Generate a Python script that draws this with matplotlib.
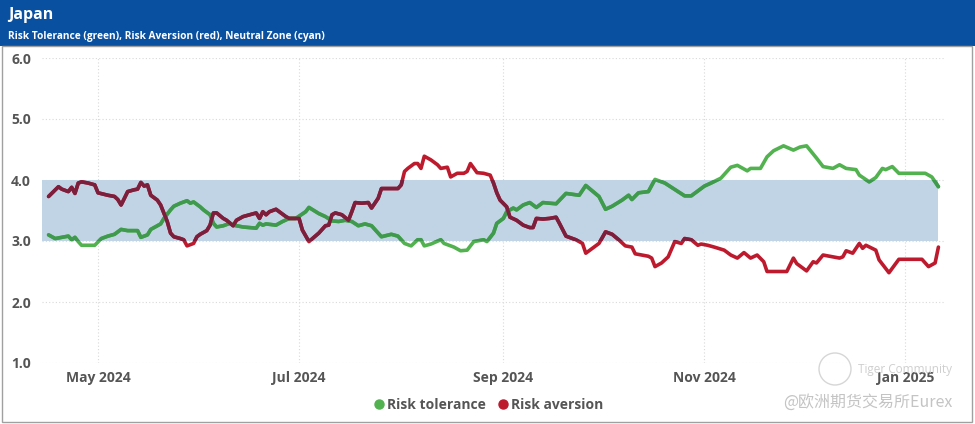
import matplotlib
matplotlib.use("Agg")
import matplotlib.pyplot as plt
import matplotlib.dates as mdates
from matplotlib.patches import Rectangle, Ellipse
from matplotlib.lines import Line2D
import pandas as pd

# ---------------- data ----------------
title = "Japan"
subtitle = "Risk Tolerance (green), Risk Aversion (red), Neutral Zone (cyan)"

red_dates = ['2024-04-16','2024-04-19','2024-04-20','2024-04-22','2024-04-23','2024-04-24','2024-04-25','2024-04-26','2024-04-28','2024-04-30',
             '2024-05-01','2024-05-04','2024-05-06','2024-05-07','2024-05-08','2024-05-10','2024-05-12','2024-05-13','2024-05-14','2024-05-15','2024-05-16','2024-05-17','2024-05-19','2024-05-20','2024-05-22','2024-05-23','2024-05-24','2024-05-26','2024-05-27','2024-05-28','2024-05-30','2024-05-31',
             '2024-06-01','2024-06-03','2024-06-04','2024-06-05','2024-06-06','2024-06-08','2024-06-09','2024-06-11','2024-06-12','2024-06-14','2024-06-16','2024-06-18','2024-06-19','2024-06-20','2024-06-21','2024-06-22','2024-06-24','2024-06-26','2024-06-27','2024-06-28',
             '2024-07-01','2024-07-02','2024-07-04','2024-07-07','2024-07-09','2024-07-10','2024-07-11','2024-07-12','2024-07-14','2024-07-16','2024-07-17','2024-07-18','2024-07-20','2024-07-22','2024-07-23','2024-07-25','2024-07-26','2024-07-28','2024-07-31',
             '2024-08-01','2024-08-02','2024-08-03','2024-08-05','2024-08-06','2024-08-07','2024-08-08','2024-08-10','2024-08-12','2024-08-13','2024-08-15','2024-08-16','2024-08-18','2024-08-20','2024-08-21','2024-08-22','2024-08-24','2024-08-26','2024-08-28','2024-08-29','2024-08-30','2024-08-31',
             '2024-09-02','2024-09-03','2024-09-05','2024-09-07','2024-09-09','2024-09-10','2024-09-11','2024-09-13','2024-09-15','2024-09-17','2024-09-18','2024-09-20','2024-09-23','2024-09-25','2024-09-26','2024-09-28','2024-09-30',
             '2024-10-02','2024-10-04','2024-10-06','2024-10-08','2024-10-10','2024-10-11','2024-10-13','2024-10-15','2024-10-16','2024-10-17','2024-10-19','2024-10-21','2024-10-23','2024-10-25','2024-10-26','2024-10-28','2024-10-30','2024-10-31',
             '2024-11-02','2024-11-04','2024-11-07','2024-11-09','2024-11-11','2024-11-13','2024-11-15','2024-11-17','2024-11-19','2024-11-20','2024-11-23','2024-11-26','2024-11-28','2024-11-29',
             '2024-12-02','2024-12-04','2024-12-05','2024-12-07','2024-12-09','2024-12-12','2024-12-13','2024-12-14','2024-12-16','2024-12-18','2024-12-19','2024-12-20','2024-12-23','2024-12-24','2024-12-26','2024-12-27','2024-12-30',
             '2025-01-06','2025-01-08','2025-01-10','2025-01-11']
red_values = [3.73,3.89,3.85,3.81,3.88,3.78,3.95,3.97,3.95,3.92,
              3.79,3.75,3.73,3.68,3.59,3.81,3.84,3.85,3.96,3.90,3.92,3.75,3.67,3.59,3.32,3.13,3.07,3.04,3.02,2.92,2.96,3.07,
              3.11,3.17,3.26,3.46,3.46,3.37,3.34,3.25,3.34,3.40,3.43,3.46,3.37,3.48,3.43,3.48,3.52,3.44,3.40,3.37,
              3.37,3.18,2.99,3.13,3.25,3.26,3.43,3.46,3.43,3.34,3.48,3.63,3.62,3.63,3.54,3.70,3.86,3.86,3.86,
              3.92,4.14,4.19,4.27,4.27,4.19,4.39,4.33,4.25,4.19,4.21,4.05,4.11,4.11,4.14,4.27,4.12,4.11,4.08,3.95,3.79,3.67,
              3.56,3.39,3.34,3.26,3.22,3.22,3.37,3.36,3.37,3.39,3.29,3.08,3.02,2.96,2.80,2.88,2.96,
              3.15,3.11,3.02,2.92,2.90,2.79,2.77,2.75,2.72,2.58,2.64,2.74,2.99,2.96,3.04,3.02,2.93,2.95,
              2.93,2.90,2.85,2.77,2.72,2.81,2.72,2.77,2.66,2.50,2.50,2.50,2.72,2.63,
              2.51,2.66,2.64,2.77,2.75,2.72,2.74,2.84,2.80,2.96,2.88,2.93,2.85,2.69,2.55,2.48,2.70,
              2.70,2.58,2.64,2.90]

green_dates = ['2024-04-16','2024-04-18','2024-04-20','2024-04-22','2024-04-23','2024-04-24','2024-04-25','2024-04-26','2024-04-30',
               '2024-05-02','2024-05-04','2024-05-06','2024-05-08','2024-05-10','2024-05-13','2024-05-14','2024-05-16','2024-05-17','2024-05-20','2024-05-21','2024-05-23','2024-05-24','2024-05-26','2024-05-28','2024-05-29','2024-05-30',
               '2024-06-01','2024-06-02','2024-06-04','2024-06-05','2024-06-06','2024-06-08','2024-06-10','2024-06-11','2024-06-14','2024-06-18','2024-06-19','2024-06-20','2024-06-21','2024-06-24','2024-06-26','2024-06-28','2024-06-30',
               '2024-07-03','2024-07-04','2024-07-07','2024-07-09','2024-07-11','2024-07-13','2024-07-15','2024-07-17','2024-07-19','2024-07-21','2024-07-23','2024-07-26','2024-07-29','2024-07-31',
               '2024-08-02','2024-08-04','2024-08-06','2024-08-07','2024-08-08','2024-08-10','2024-08-13','2024-08-14','2024-08-17','2024-08-19','2024-08-21','2024-08-23','2024-08-26','2024-08-27','2024-08-29','2024-08-30',
               '2024-09-01','2024-09-02','2024-09-04','2024-09-05','2024-09-07','2024-09-09','2024-09-11','2024-09-13','2024-09-17','2024-09-20','2024-09-24','2024-09-26','2024-09-28','2024-09-30',
               '2024-10-02','2024-10-04','2024-10-07','2024-10-09','2024-10-10','2024-10-12','2024-10-15','2024-10-17','2024-10-20','2024-10-22','2024-10-24','2024-10-26','2024-10-28','2024-10-30',
               '2024-11-01','2024-11-03','2024-11-06','2024-11-09','2024-11-11','2024-11-14','2024-11-15','2024-11-18','2024-11-20','2024-11-22','2024-11-25','2024-11-28','2024-11-30',
               '2024-12-02','2024-12-05','2024-12-07','2024-12-10','2024-12-12','2024-12-14','2024-12-17','2024-12-18','2024-12-21','2024-12-23','2024-12-25','2024-12-26','2024-12-28','2024-12-30',
               '2025-01-07','2025-01-09','2025-01-11']
green_values = [3.10,3.04,3.06,3.08,3.02,3.06,2.99,2.93,2.93,
                3.04,3.08,3.11,3.19,3.17,3.17,3.06,3.10,3.19,3.28,3.37,3.51,3.57,3.62,3.66,3.62,3.64,
                3.56,3.51,3.43,3.29,3.23,3.25,3.29,3.26,3.23,3.21,3.29,3.26,3.28,3.26,3.32,3.37,3.37,
                3.48,3.55,3.45,3.40,3.33,3.32,3.34,3.32,3.25,3.28,3.25,3.07,3.11,3.08,
                2.96,2.92,3.02,3.02,2.92,2.95,3.02,2.96,2.90,2.84,2.85,2.99,3.02,2.99,3.13,3.29,
                3.37,3.48,3.54,3.51,3.59,3.63,3.55,3.63,3.61,3.78,3.75,3.91,3.82,3.73,
                3.52,3.57,3.67,3.75,3.68,3.79,3.81,4.01,3.95,3.88,3.81,3.74,3.74,3.82,
                3.90,3.95,4.03,4.21,4.24,4.15,4.19,4.19,4.38,4.48,4.56,4.49,4.54,
                4.56,4.36,4.22,4.19,4.25,4.19,4.17,4.08,3.97,4.04,4.19,4.17,4.22,4.11,
                4.11,4.05,3.89]

neutral_low, neutral_high = 3.0, 4.0
y_ticks = [1.0, 2.0, 3.0, 4.0, 5.0, 6.0]
x_tick_dates = ['2024-05-01', '2024-07-01', '2024-09-01', '2024-11-01', '2025-01-01']
x_tick_labels = ['May 2024', 'Jul 2024', 'Sep 2024', 'Nov 2024', 'Jan 2025']
x_range = ('2024-04-14', '2025-01-13')
band_range = ('2024-04-14', '2025-01-11')
legend_labels = ['Risk tolerance', 'Risk aversion']

# ---------------- styling ----------------
FONT = ['Open Sans', 'DejaVu Sans']
plt.rcParams['font.family'] = FONT
W, H = 975, 424
fig = plt.figure(figsize=(W / 100, H / 100), dpi=100)

HEADER = '#0a50a0'
TXT = '#555555'
GREEN_OUT, GREEN_IN = '#52b24f', '#3f9a4d'
RED_OUT, RED_IN = '#bd1a2e', '#7c1f3d'
BAND = '#c1d4e6'

# header bar and frame
fig.patches.append(Rectangle((0, 1 - 46 / H), 1, 46 / H, transform=fig.transFigure,
                             facecolor=HEADER, edgecolor='none', zorder=0))
fig.patches.append(Rectangle((2 / W, 2 / H), (W - 5) / W, (H - 48) / H, transform=fig.transFigure,
                             facecolor='none', edgecolor='#a0a0a0', linewidth=1.0, zorder=0))
fig.text(8 / W, 1 - 15 / H, title, color='white', fontsize=11.5, fontweight='bold',
         va='center', ha='left')
fig.text(8 / W, 1 - 37 / H, subtitle, color='white', fontsize=7.3, fontweight='bold',
         va='center', ha='left')

ax = fig.add_axes([42 / W, (H - 363) / H, (945 - 42) / W, (363 - 58) / H])
ax.set_facecolor('none')
for s in ax.spines.values():
    s.set_visible(False)

rd = pd.to_datetime(red_dates)
gd = pd.to_datetime(green_dates)
x0, x1 = pd.to_datetime(x_range[0]), pd.to_datetime(x_range[1])
b0, b1 = pd.to_datetime(band_range[0]), pd.to_datetime(band_range[1])

ax.set_xlim(x0, x1)
ax.set_ylim(y_ticks[0], y_ticks[-1])

# grid
for y in y_ticks:
    ax.axhline(y, color='#d9d9d9', linewidth=0.8, linestyle=(0, (1, 2)), zorder=1)
for d in pd.to_datetime(x_tick_dates):
    ax.axvline(d, color='#d9d9d9', linewidth=0.8, linestyle=(0, (1, 2)), zorder=1)

# neutral band
bx0, bx1 = mdates.date2num(b0), mdates.date2num(b1)
ax.add_patch(Rectangle((bx0, neutral_low), bx1 - bx0, neutral_high - neutral_low,
                       facecolor=BAND, edgecolor='none', zorder=2))

def draw(dates, vals, c_out, c_in):
    ax.plot(dates, vals, color=c_out, linewidth=2.6, solid_joinstyle='round',
            solid_capstyle='round', zorder=3)
    ln, = ax.plot(dates, vals, color=c_in, linewidth=2.6, solid_joinstyle='round',
                  solid_capstyle='round', zorder=4)
    clip = Rectangle((mdates.date2num(x0) - 10, neutral_low), 400, neutral_high - neutral_low,
                     transform=ax.transData, facecolor='none', edgecolor='none')
    ln.set_clip_path(clip)

draw(gd, green_values, GREEN_OUT, GREEN_IN)
draw(rd, red_values, RED_OUT, RED_IN)

ax.set_yticks(y_ticks)
ax.set_yticklabels([f'{v:.1f}' for v in y_ticks])
ax.set_xticks(pd.to_datetime(x_tick_dates))
ax.set_xticklabels(x_tick_labels)
ax.tick_params(axis='both', length=0, colors=TXT, labelsize=10)
ax.tick_params(axis='y', pad=8)
ax.tick_params(axis='x', pad=6)
for lab in ax.get_xticklabels() + ax.get_yticklabels():
    lab.set_fontweight('bold')
    lab.set_color(TXT)

# legend
handles = [Line2D([], [], marker='o', linestyle='none', markersize=6.5, color=GREEN_OUT),
           Line2D([], [], marker='o', linestyle='none', markersize=6.5, color=RED_OUT)]
leg = fig.legend(handles, legend_labels, loc='center', bbox_to_anchor=(487 / W, 1 - 405 / H),
                 ncol=2, frameon=False, handletextpad=0.0, columnspacing=0.6,
                 handlelength=1.2, prop={'weight': 'bold', 'size': 10})
for t in leg.get_texts():
    t.set_color(TXT)

# watermark
fig.patches.append(Ellipse((835 / W, 1 - 369 / H), 32 / W, 32 / H, transform=fig.transFigure,
                           facecolor='none', edgecolor='#d6d6d6', linewidth=1.0, zorder=5))
fig.text(858 / W, 1 - 369 / H, 'Tiger Community', color='#cfcfcf', fontsize=8.5,
         va='center', ha='left', zorder=6)
fig.text(783 / W, 1 - 402 / H, '@欧洲期货交易所Eurex', color='#c4c4c4', fontsize=11.5,
         va='center', ha='left', family=['Noto Sans CJK SC', 'DejaVu Sans'], zorder=6)

fig.savefig('out.png', dpi=100)
